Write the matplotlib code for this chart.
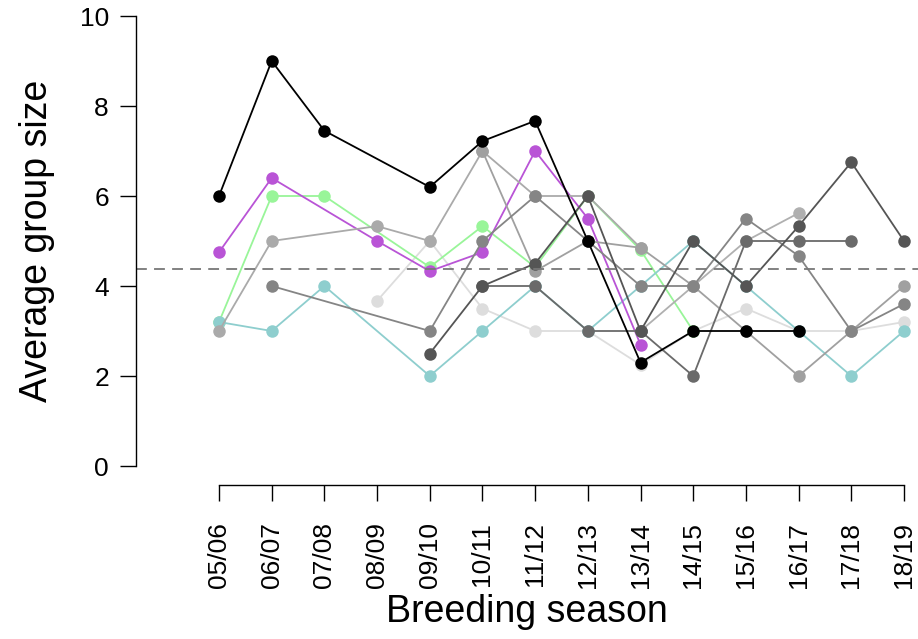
import numpy as np
import matplotlib
matplotlib.use('Agg')
import matplotlib.pyplot as plt

nan = np.nan
seasons = ['05/06', '06/07', '07/08', '08/09', '09/10', '10/11', '11/12',
           '12/13', '13/14', '14/15', '15/16', '16/17', '17/18', '18/19']

# group size per season, one list per group (nan = not observed)
very_light = [nan, nan, nan, 3.67, 5.0, 3.5, 3.0, 3.0, 2.25, 3.0, 3.5, 3.0, 3.0, 3.2]
green = [3.2, 6.0, 6.0, nan, 4.42, 5.33, 4.42, 6.0, 4.8, 3.0, nan, nan, nan, nan]
cyan = [3.2, 3.0, 4.0, nan, 2.0, 3.0, 4.0, 3.0, 4.0, 5.0, 4.0, 3.0, 2.0, 3.0]
purple = [4.75, 6.4, nan, 5.0, 4.33, 4.75, 7.0, 5.5, 2.7, nan, nan, nan, nan, nan]
grey_p = [3.0, 5.0, nan, 5.33, 5.0, 7.0, 6.0, 6.0, 4.85, nan, nan, nan, nan, nan]
grey_q = [nan, nan, nan, nan, nan, 7.0, 4.33, 5.0, 4.85, 4.0, 3.0, 2.0, 3.0, 4.0]
grey_r = [nan, nan, nan, nan, nan, nan, nan, nan, 3.0, 4.0, 5.0, 5.62, nan, nan]
grey_d = [nan, 4.0, nan, nan, 3.0, 5.0, 6.0, 5.0, 4.0, 4.0, 5.5, 4.67, 3.0, 3.6]
dark_f = [nan, nan, nan, nan, nan, 4.0, 4.0, 3.0, 3.0, 2.0, 5.0, 5.0, 5.0, nan]
dark_c = [nan, nan, nan, nan, 2.5, 4.0, 4.5, 6.0, 3.0, 5.0, 4.0, 5.33, 6.75, 5.0]
black = [6.0, 9.0, 7.45, nan, 6.2, 7.22, 7.67, 5.0, 2.3, 3.0, 3.0, 3.0, nan, nan]
overall_mean = 4.38

series = [
    (very_light, '#dddddd'),
    (green, '#99f599'),
    (cyan, '#8ecece'),
    (purple, '#b954d6'),
    (grey_p, '#aaaaaa'),
    (grey_q, '#a0a0a0'),
    (grey_r, '#b0b0b0'),
    (grey_d, '#858585'),
    (dark_f, '#6a6a6a'),
    (dark_c, '#555555'),
    (black, '#000000'),
]

plt.rcParams['font.family'] = ['Liberation Sans', 'DejaVu Sans']

W, H = 918, 639
fig = plt.figure(figsize=(W / 100, H / 100), dpi=100)
left, right, bottom, top = 136, 918, 484, -2
ax = fig.add_axes([left / W, (H - bottom) / H, (right - left) / W, (bottom - top) / H])

x_all = np.arange(len(seasons))
x0, step = 219, 52.69
ax.set_xlim((left - x0) / step, (right - x0) / step)
ax.set_ylim(-0.4, 10.4)

for vals, col in series:
    v = np.array(vals, dtype=float)
    m = ~np.isnan(v)
    ax.plot(x_all[m], v[m], color=col, lw=1.3, marker='o', ms=9, mew=0)

ax.axhline(overall_mean, color='#777777', lw=1.3, ls=(0, (6, 4)))

for s in ['top', 'right']:
    ax.spines[s].set_visible(False)
ax.spines['left'].set_bounds(0, 10)
ax.spines['bottom'].set_bounds(0, len(seasons) - 1)
ax.spines['bottom'].set_position(('outward', 1))
for s in ['left', 'bottom']:
    ax.spines[s].set_linewidth(1.0)

ax.set_yticks(range(0, 11, 2))
ax.set_xticks(x_all)
ax.set_xticklabels(seasons, rotation=90)
ax.tick_params(axis='both', length=11.5, width=1.0, labelsize=19)
ax.tick_params(axis='y', pad=8)
ax.tick_params(axis='x', pad=15)

ax.set_ylabel('Average group size', fontsize=27, labelpad=18)
ax.set_xlabel('Breeding season', fontsize=27, labelpad=4)

fig.savefig('out.png', dpi=100)
